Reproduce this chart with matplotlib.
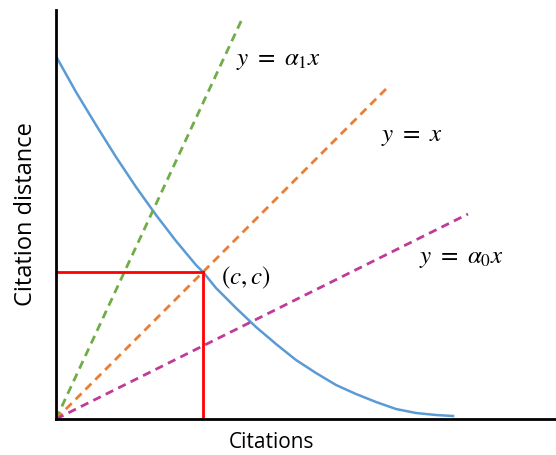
import matplotlib.pyplot as plt

plt.rcParams['mathtext.fontset'] = 'stix'

# line endpoints (data units, origin at axes corner)
green_x = [0, 187]
green_y = [0, 402]
orange_x = [0, 334]
orange_y = [0, 334]
magenta_x = [0, 412]
magenta_y = [0, 205]

# decreasing citation-distance curve
curve_x = [1, 20, 40, 60, 80, 100, 120, 140, 147, 160, 180, 200, 220,
           240, 260, 280, 300, 320, 340, 360, 380, 397]
curve_y = [361, 327, 294, 262, 232, 204, 178, 154, 147, 131, 111, 92, 75,
           59, 46, 34, 25, 17, 10, 6, 4, 3]

# crossing point (c, c)
c_point = 147

fig = plt.figure(figsize=(5.56, 4.55), dpi=100)
ax = fig.add_axes([56 / 556, 36 / 455, 500 / 556, 409 / 455])

ax.plot(curve_x, curve_y, color='#5B9BD5', lw=1.8)
ax.plot(green_x, green_y, color='#70AD47', lw=2, ls=(0, (3, 2)))
ax.plot(orange_x, orange_y, color='#ED7D31', lw=2, ls=(0, (3, 2)))
ax.plot(magenta_x, magenta_y, color='#BE3B97', lw=2, ls=(0, (3, 2)))

ax.plot([0, c_point], [c_point, c_point], color='red', lw=2)
ax.plot([c_point, c_point], [0, c_point], color='red', lw=2)

ax.text(180, 359, r'$y\ =\ \alpha_1 x$', fontsize=18, va='center')
ax.text(325, 283, r'$y\ =\ x$', fontsize=18, va='center')
ax.text(363, 161, r'$y\ =\ \alpha_0 x$', fontsize=18, va='center')
ax.text(165, 141, r'$(c, c)$', fontsize=18, va='center')

ax.set_xlim(0, 500)
ax.set_ylim(0, 409)
ax.set_xticks([])
ax.set_yticks([])
for side in ['top', 'right']:
    ax.spines[side].set_visible(False)
for side in ['left', 'bottom']:
    ax.spines[side].set_linewidth(2)
    ax.spines[side].set_color('black')

ax.set_xlabel('Citations', fontsize=15, family='Open Sans')
ax.set_ylabel('Citation distance', fontsize=17, family='Open Sans')
ax.xaxis.set_label_coords(216 / 500, -13 / 409)
ax.yaxis.set_label_coords(-18 / 500, 0.5)

fig.savefig('out.png', dpi=100)
